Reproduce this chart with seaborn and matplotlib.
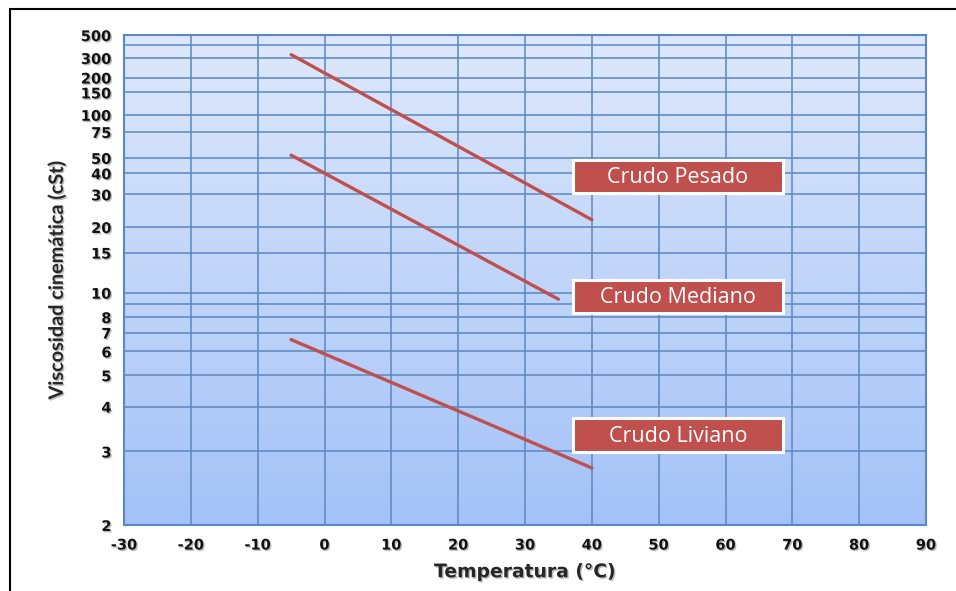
import numpy as np
import pandas as pd
import matplotlib
matplotlib.use("Agg")
import matplotlib.pyplot as plt
import matplotlib.patheffects as pe
from matplotlib.patches import Rectangle
import seaborn as sns

# ---- data ----
crudes = ["Crudo Pesado", "Crudo Mediano", "Crudo Liviano"]
temp_start = [-5, -5, -5]
temp_end = [40, 35, 40]
visc_start = [322, 52, 6.6]
visc_end = [21.8, 9.4, 2.72]

x_ticks = [-30, -20, -10, 0, 10, 20, 30, 40, 50, 60, 70, 80, 90]
y_ticks = [2, 3, 4, 5, 6, 7, 8, 10, 15, 20, 30, 40, 50, 75, 100, 150, 200, 300, 500]
y_minor = [9, 400]

# ---- ASTM D341 style (Walther) viscosity scale ----
C = 0.7
def fwd(v):
    v = np.asarray(v, dtype=float)
    return np.log10(np.log10(np.clip(v, 1e-9, None) + C))
def inv(y):
    y = np.asarray(y, dtype=float)
    return 10 ** (10 ** y) - C

rows = []
for name, t0, t1, v0, v1 in zip(crudes, temp_start, temp_end, visc_start, visc_end):
    rows.append({"crudo": name, "T": t0, "v": v0})
    rows.append({"crudo": name, "T": t1, "v": v1})
df = pd.DataFrame(rows)

sns.set_style("white")
W, H = 956, 591
fig = plt.figure(figsize=(W / 100, H / 100), dpi=100)
ax = fig.add_axes([124 / W, 1 - 525 / H, (926 - 124) / W, (525 - 35) / H])

ax.set_yscale("function", functions=(fwd, inv))
ax.set_xlim(-30, 90)
ax.set_ylim(2, 500)

# gradient background
grad = np.linspace(0, 1, 256).reshape(-1, 1)
top = np.array([0.87, 0.91, 0.985])
bot = np.array([0.64, 0.76, 0.97])
img = top[None, None, :] * (1 - grad[:, :, None]) + bot[None, None, :] * grad[:, :, None]
ax.imshow(img, extent=[0, 1, 0, 1], transform=ax.transAxes, aspect="auto", zorder=0)

grid_col = "#5b87c2"
ax.set_xticks(x_ticks)
ax.set_yticks(y_ticks)
ax.set_yticks(y_minor, minor=True)
ax.set_yticklabels([str(v) for v in y_ticks])
ax.set_xticklabels([str(v) for v in x_ticks])
ax.grid(True, which="both", color=grid_col, linewidth=1.3, alpha=0.85, zorder=1)
ax.set_axisbelow(False)
ax.tick_params(axis="both", which="both", length=0)
ax.tick_params(axis="x", pad=9)
ax.tick_params(axis="y", pad=9)
for s in ax.spines.values():
    s.set_color(grid_col)
    s.set_linewidth(1.5)

shadow = [pe.withSimplePatchShadow(offset=(1, -1), shadow_rgbFace="#777777", alpha=0.5)]
for lab in ax.get_xticklabels() + ax.get_yticklabels():
    lab.set_fontweight("bold")
    lab.set_fontsize(10.5)
    lab.set_fontfamily("DejaVu Sans")
    lab.set_color("#111111")
    lab.set_path_effects(shadow)

sns.lineplot(data=df, x="T", y="v", hue="crudo", palette=["#c0504d"] * 3,
             linewidth=2.4, legend=False, ax=ax, zorder=3)
ax.set_xlim(-30, 90)
ax.set_ylim(2, 500)

ax.set_xlabel("Temperatura (°C)", fontsize=13.5, fontweight="bold",
              family="DejaVu Sans", labelpad=7, path_effects=shadow)
ax.set_ylabel("Viscosidad cinemática (cSt)", fontsize=14.3, fontweight="bold",
              family="Lato", labelpad=10, path_effects=shadow)

# label boxes (axes-fraction positions)
box_x0, box_x1 = (573 - 124) / 802, (783 - 124) / 802
box_y = [(0.678, 0.745), (0.433, 0.500), (0.149, 0.218)]
for name, (y0, y1) in zip(crudes, box_y):
    r = Rectangle((box_x0, y0), box_x1 - box_x0, y1 - y0, transform=ax.transAxes,
                  facecolor="#c0504d", edgecolor="white", linewidth=2.2, zorder=5,
                  path_effects=[pe.withSimplePatchShadow(offset=(1.5, -1.5), alpha=0.35)])
    ax.add_patch(r)
    ax.text((box_x0 + box_x1) / 2, (y0 + y1) / 2 - 0.002, name, transform=ax.transAxes,
            ha="center", va="center", color="white", fontsize=15.5,
            family="Open Sans", zorder=6)

# figure frame (left and top)
fig.add_artist(plt.Line2D([10 / W, 10 / W], [0, 1 - 9 / H], color="black", lw=1.5,
                          transform=fig.transFigure))
fig.add_artist(plt.Line2D([10 / W, 1], [1 - 9 / H, 1 - 9 / H], color="black", lw=1.5,
                          transform=fig.transFigure))

fig.savefig("out.png", dpi=100)
